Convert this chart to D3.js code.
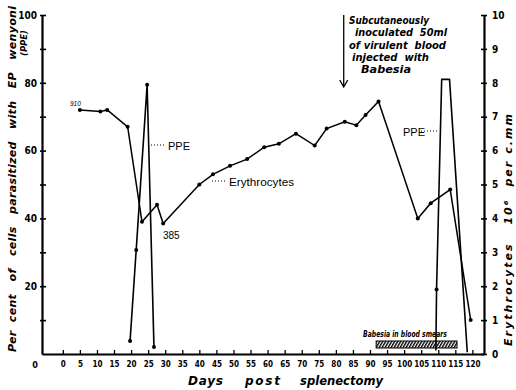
<!DOCTYPE html>
<html>
<head>
<meta charset="utf-8">
<script src="https://cdn.jsdelivr.net/npm/d3@7"></script>
<style>
  body { margin: 0; background: #fff; }
  svg { display: block; }
  .axis path, .axis line { stroke: #000; }
  .axis text { font-family: "DejaVu Sans Condensed", "DejaVu Sans", sans-serif; font-weight: bold; fill: #000; }
  text { white-space: pre; }
</style>
</head>
<body>
<div class="chart-container"></div>
<script>
// --- data ---
var eryDays   = [5, 11, 13, 19, 23.2, 27.6, 29.4, 40, 44, 49, 54, 59, 63.3, 68.3, 73.8, 77.3, 82.6, 86, 88.7, 92.5, 104, 107.8, 113.5, 119.5];
var eryValues = [7.2, 7.15, 7.2, 6.7, 3.9, 4.4, 3.85, 5.0, 5.3, 5.55, 5.75, 6.1, 6.2, 6.5, 6.15, 6.65, 6.85, 6.75, 7.05, 7.45, 4.0, 4.45, 4.85, 1.0];

// PPE: two bursts, null breaks the line between them
var ppeDays   = [19.7, 21.5, 24.7, 26.7, null, 109.3, 109.5, 111, 113.3, 118.5];
var ppeValues = [3.8, 30.7, 79.4, 2.1, null, 1, 19, 81, 81, 0.5];
var ppeDots   = [true, true, true, true, false, false, true, false, false, false];

var xTicks = d3.range(0, 121, 5);
var leftTicks = [10, 20, 30, 40, 50, 60, 70, 80, 90, 100];
var rightTicks = [0, 1, 2, 3, 4, 5, 6, 7, 8, 9, 10];

var babesiaStart = 91.8, babesiaEnd = 115.5;
var inoculationDay = 82.3;
var noteLines = ["Subcutaneously", "inoculated  50ml", "of virulent  blood", "injected  with", "Babesia"];

// --- layout ---
const w = 516, h = 390;
const padL = 42, padR = 484, padT = 15, padB = 354;

var x = d3.scaleLinear().domain([-6.1, 123.4]).range([padL, padR]);
var yL = d3.scaleLinear().domain([0, 100]).range([padB, padT]);
var yR = d3.scaleLinear().domain([0, 10]).range([padB, padT]);

var svg = d3.select(".chart-container").append("svg")
    .attr("width", w).attr("height", h);
svg.append("rect").attr("width", w).attr("height", h).attr("fill", "#fff");

var defs = svg.append("defs");
var pat = defs.append("pattern").attr("id", "hatch")
    .attr("patternUnits", "userSpaceOnUse").attr("width", 3).attr("height", 7)
    .attr("patternTransform", "skewX(-30)");
pat.append("rect").attr("width", 3).attr("height", 7).attr("fill", "#fff");
pat.append("rect").attr("width", 1.6).attr("height", 7).attr("fill", "#000");

// axes
var gx = svg.append("g").attr("class", "axis").attr("transform", "translate(0," + padB + ")")
    .call(d3.axisBottom(x).tickValues(xTicks).tickSizeInner(0).tickSizeOuter(0).tickPadding(7));
gx.select(".domain").attr("stroke-width", 2);
gx.selectAll(".tick line").attr("y1", 0).attr("y2", -4).attr("stroke-width", 1.3);
gx.selectAll("text").attr("font-size", 8);

var gl = svg.append("g").attr("class", "axis").attr("transform", "translate(" + padL + ",0)")
    .call(d3.axisLeft(yL).tickValues(leftTicks).tickSizeInner(0).tickSizeOuter(0).tickPadding(5)
        .tickFormat(function (d) { return d % 20 === 0 ? d : ""; }));
gl.select(".domain").attr("stroke-width", 2.2);
gl.selectAll(".tick line").attr("x1", -2).attr("x2", 4).attr("stroke-width", 1.6);
gl.selectAll("text").attr("font-size", 10);

var gr = svg.append("g").attr("class", "axis").attr("transform", "translate(" + padR + ",0)")
    .call(d3.axisRight(yR).tickValues(rightTicks).tickSizeInner(0).tickSizeOuter(0).tickPadding(8));
gr.select(".domain").attr("stroke-width", 2.2);
gr.selectAll(".tick line").attr("x1", -3).attr("x2", 3).attr("stroke-width", 1.6);
gr.selectAll("text").attr("font-size", 10);

svg.append("text").attr("x", 35).attr("y", 368).text("0")
    .attr("font-family", "DejaVu Sans Condensed, DejaVu Sans").attr("font-weight", "bold")
    .attr("font-size", 9).attr("text-anchor", "middle");

// babesia bar
svg.append("rect")
    .attr("x", x(babesiaStart)).attr("y", 341)
    .attr("width", x(babesiaEnd) - x(babesiaStart)).attr("height", 7)
    .attr("fill", "url(#hatch)").attr("stroke", "#000").attr("stroke-width", 1);
svg.append("text").attr("x", 363).attr("y", 337).text("Babesia in blood smears")
    .attr("textLength", 84).attr("lengthAdjust", "spacingAndGlyphs")
    .attr("font-family", "DejaVu Sans").attr("font-style", "italic").attr("font-weight", "bold")
    .attr("font-size", 9.5);

// series
var ery = eryDays.map(function (d, i) { return { d: d, v: eryValues[i] }; });
var ppe = ppeDays.map(function (d, i) { return { d: d, v: ppeValues[i], dot: ppeDots[i] }; });

svg.append("path").datum(ery)
    .attr("fill", "none").attr("stroke", "#000").attr("stroke-width", 1.5)
    .attr("d", d3.line().x(function (p) { return x(p.d); }).y(function (p) { return yR(p.v); }));
svg.selectAll(".eryDot").data(ery).enter().append("circle")
    .attr("cx", function (p) { return x(p.d); }).attr("cy", function (p) { return yR(p.v); })
    .attr("r", 2).attr("fill", "#000");

svg.append("path").datum(ppe)
    .attr("fill", "none").attr("stroke", "#000").attr("stroke-width", 1.6)
    .attr("stroke-linejoin", "round")
    .attr("d", d3.line().defined(function (p) { return p.d !== null; })
        .x(function (p) { return x(p.d); }).y(function (p) { return yL(p.v); }));
svg.selectAll(".ppeDot").data(ppe.filter(function (p) { return p.dot; })).enter().append("circle")
    .attr("cx", function (p) { return x(p.d); }).attr("cy", function (p) { return yL(p.v); })
    .attr("r", 2).attr("fill", "#000");

// labels
function label(tx, ty, s, size, opts) {
    var t = svg.append("text").attr("x", tx).attr("y", ty).text(s)
        .attr("font-family", "Liberation Sans, sans-serif").attr("font-size", size).attr("fill", "#000");
    if (opts) Object.keys(opts).forEach(function (k) { t.attr(k, opts[k]); });
    return t;
}
function leader(x1, x2, yy) {
    svg.append("line").attr("x1", x1).attr("x2", x2).attr("y1", yy).attr("y2", yy)
        .attr("stroke", "#000").attr("stroke-width", 1).attr("stroke-dasharray", "1,2");
}
leader(151, 166, 145);
label(168, 150, "PPE", 11);
leader(421, 438, 131);
label(403, 136, "PPE", 11);
leader(212, 227, 181);
label(229, 186, "Erythrocytes", 10.5, { textLength: 65, lengthAdjust: "spacingAndGlyphs" });
label(163, 239, "385", 10);
label(70, 106, "910", 6.5, { "font-style": "italic" });

// inoculation note + arrow
var ax = x(inoculationDay);
svg.append("line").attr("x1", ax).attr("x2", ax).attr("y1", 15).attr("y2", 86)
    .attr("stroke", "#000").attr("stroke-width", 1.3);
svg.append("path").attr("d", "M" + (ax - 4) + ",80 L" + ax + ",87 L" + (ax + 4) + ",80")
    .attr("fill", "none").attr("stroke", "#000").attr("stroke-width", 1.3);
var noteX = [349, 355, 349, 352, 361];
var noteLen = [80, 92, 97, 77, 50];
noteLines.forEach(function (s, i) {
    label(noteX[i], 24 + i * 12.3, s, 10, {
        "font-family": "DejaVu Sans", "font-style": "italic", "font-weight": "bold",
        textLength: noteLen[i], lengthAdjust: "spacingAndGlyphs"
    });
});

// axis titles
var titleFont = { "font-family": "DejaVu Sans", "font-style": "italic", "font-weight": "bold" };
label(0, 0, "Per  cent   of   cells   parasitized   with   EP   wenyoni", 11, Object.assign({
    transform: "translate(16,352) rotate(-90)", textLength: 346, lengthAdjust: "spacing"
}, titleFont));
label(0, 0, "(PPE)", 9.5, Object.assign({
    transform: "translate(27,56) rotate(-90)", textLength: 26, lengthAdjust: "spacingAndGlyphs"
}, titleFont));
label(0, 0, "Erythrocytes   10\u2076  per c.mm", 11, Object.assign({
    transform: "translate(512,346) rotate(-90)", textLength: 232, lengthAdjust: "spacing"
}, titleFont));
label(188, 385, "Days", 12, Object.assign({ textLength: 35, lengthAdjust: "spacing" }, titleFont));
label(245, 385, "post", 12, Object.assign({ textLength: 35, lengthAdjust: "spacing" }, titleFont));
label(300, 385, "splenectomy", 12, Object.assign({ textLength: 83, lengthAdjust: "spacingAndGlyphs" }, titleFont));
</script>
</body>
</html>
